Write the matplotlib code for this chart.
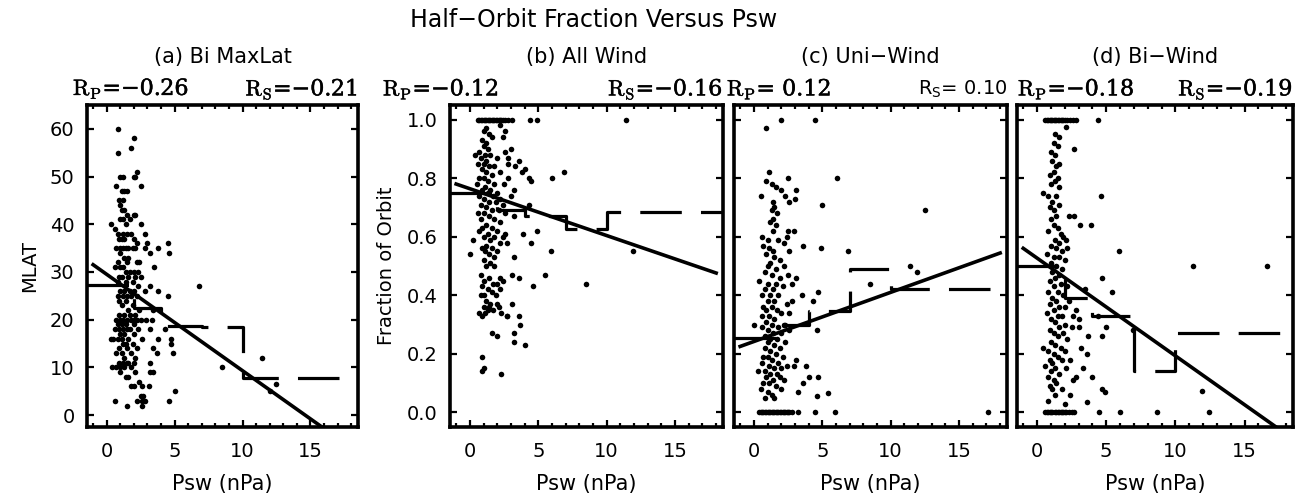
import matplotlib
matplotlib.use("Agg")
import matplotlib.pyplot as plt
import matplotlib.patheffects as pe
from matplotlib.ticker import MultipleLocator
import numpy as np

plt.rcParams['font.family'] = ['DejaVu Sans']

# ---- data ----
# (a) Bi MaxLat : Psw (nPa), MLAT (deg)
a_pts = [(0.8,60),(0.8,55),(2.0,58),(1.8,56),(2.2,51),(2.0,50),(2.1,50),(1.2,50),(1.0,50),(0.7,48),
         (2.5,48),(1.1,47),(1.3,47),(1.5,47),(0.9,45),(1.2,45),(1.0,44),(1.1,43),(1.3,43),(1.5,42),
         (2.0,42),(2.1,42),(0.3,40),(0.6,39),(1.0,41),(1.2,41),(1.4,40),(1.7,41),(2.5,40),(0.8,38),
         (1.2,38),(1.5,38),(1.8,38),(2.8,38),(0.9,37),(1.1,37),(1.3,37),(2.0,37),(2.2,36),(3.0,36),
         (0.7,35),(1.0,35),(1.2,35),(1.4,35),(1.6,35),(1.9,35),(2.1,35),(3.8,35),(4.5,36),(4.6,34),
         (3.2,34),(2.8,35),(1.0,34),(1.3,33),(1.6,33),(0.8,32),(1.5,32),(2.2,32),(2.4,32),(0.6,31),
         (1.0,31),(1.2,31),(1.4,30),(1.7,30),(2.0,30),(2.3,30),(3.5,31),(0.9,29),(1.1,29),(1.6,29),
         (2.1,29),(2.5,29),(0.8,28),(1.4,28),(1.9,28),(2.3,27),(3.2,27),(1.0,26),(1.3,26),(1.7,26),
         (2.0,26),(2.8,26),(3.8,26),(0.8,25),(1.2,25),(1.5,25),(1.8,25),(2.2,25),(4.5,25),(0.9,24),
         (1.4,24),(1.9,23),(1.1,23),(1.6,22),(2.4,22),(3.4,22),(0.9,21),(1.3,21),(1.7,21),(2.1,21),
         (0.7,20),(1.0,20),(1.2,20),(1.5,20),(1.8,20),(2.0,20),(2.2,20),(2.5,20),(2.9,20),(3.3,20),
         (0.8,19),(1.1,19),(1.4,19),(2.0,19),(0.6,18),(0.9,18),(1.2,18),(1.5,18),(1.7,18),(2.3,18),
         (3.2,18),(4.3,18),(1.0,17),(1.3,17),(2.0,17),(0.5,16),(0.8,16),(1.1,16),(1.6,16),(2.6,16),
         (3.8,16),(4.7,16),(0.3,16),(1.2,15),(1.4,15),(1.9,15),(4.7,15),(0.9,14),(1.5,14),(2.2,14),
         (3.4,14),(4.9,13),(3.7,13),(0.7,13),(1.1,13),(1.8,13),(2.1,12),(1.3,12),(1.6,11),(0.9,11),
         (1.2,11),(1.5,11),(2.0,11),(3.2,11),(0.4,10),(0.7,10),(1.0,10),(1.3,10),(1.8,10),(2.1,9),
         (3.2,9),(3.4,9),(1.0,9),(1.4,8),(1.6,8),(2.4,7),(1.8,6),(2.0,6),(2.6,6),(3.1,6),
         (2.7,4),(2.5,4),(2.6,3),(2.8,3),(2.6,2),(0.6,3),(1.5,2),(2.2,3),(4.6,3),(5.0,5),
         (6.8,27),(8.5,10),(11.4,12),(12.5,6.5),(12.0,5)]

# (b) All Wind : Psw, fraction of orbit
b_pts = [(1.2,0.97),(1.0,0.96),(1.4,0.95),(2.2,0.98),(1.6,0.94),(2.6,0.96),(0.9,0.93),(1.2,0.92),
         (2.4,0.94),(1.0,0.91),(1.3,0.90),(0.7,0.89),(1.1,0.88),(1.5,0.88),(3.0,0.90),(2.6,0.89),
         (0.4,0.88),(0.8,0.87),(1.2,0.86),(2.0,0.87),(2.8,0.87),(3.6,0.86),(0.6,0.85),(1.0,0.85),
         (1.4,0.84),(1.8,0.84),(3.3,0.84),(4.0,0.83),(0.9,0.83),(1.2,0.82),(2.2,0.82),(1.6,0.81),
         (3.8,0.82),(0.7,0.80),(1.0,0.80),(1.3,0.79),(2.8,0.80),(4.3,0.80),(1.8,0.78),(0.5,0.78),
         (2.5,0.78),(1.1,0.77),(1.5,0.76),(0.9,0.76),(2.0,0.75),(1.3,0.75),(0.7,0.74),(1.7,0.74),
         (3.0,0.74),(1.0,0.73),(2.2,0.73),(1.4,0.72),(1.9,0.72),(0.8,0.71),(2.4,0.71),(1.2,0.70),
         (1.6,0.69),(2.1,0.69),(0.6,0.68),(1.0,0.68),(2.6,0.68),(1.4,0.67),(3.2,0.67),(1.8,0.66),
         (0.8,0.66),(2.2,0.65),(1.2,0.64),(1.6,0.63),(0.9,0.63),(2.0,0.62),(2.6,0.61),(1.3,0.61),
         (0.7,0.62),(1.0,0.60),(1.8,0.60),(2.4,0.60),(0.2,0.59),(1.5,0.59),(2.2,0.58),(1.2,0.57),
         (2.7,0.58),(0.9,0.56),(1.6,0.56),(1.1,0.55),(2.0,0.55),(1.4,0.54),(1.8,0.53),(1.0,0.52),
         (3.2,0.53),(0.0,0.54),(1.5,0.51),(1.2,0.50),(1.8,0.50),(0.8,0.47),(1.4,0.46),(2.2,0.46),
         (2.4,0.45),(1.0,0.45),(1.7,0.44),(2.0,0.44),(0.9,0.43),(1.3,0.42),(2.2,0.42),(1.6,0.41),
         (1.0,0.40),(0.8,0.40),(1.9,0.40),(1.2,0.38),(1.5,0.37),(2.0,0.37),(1.0,0.36),(1.3,0.35),
         (1.7,0.35),(0.7,0.34),(2.3,0.34),(2.7,0.33),(0.9,0.33),(1.1,0.34),(2.1,0.36),(1.4,0.36),
         (4.4,1.0),(4.9,1.0),(11.4,1.0),(6.9,0.82),(6.0,0.80),(4.5,0.79),(8.5,0.44),(11.9,0.55),
         (5.5,0.47),(5.9,0.55),(4.6,0.43),(4.5,0.58),(4.9,0.62),(3.9,0.61),(4.3,0.71),(0.9,0.19),
         (0.9,0.14),(1.0,0.15),(2.3,0.13),(2.0,0.26),(1.6,0.27),(3.2,0.27),(3.2,0.24),(3.7,0.30),
         (4.0,0.23),(3.6,0.33),(3.1,0.37),(2.7,0.33),(3.6,0.46),(3.1,0.47),(3.2,0.76),(2.8,0.85)]
b_top_x = [0.6,0.7,0.8,0.9,1.0,1.1,1.2,1.3,1.4,1.5,1.6,1.7,1.8,1.9,2.0,2.1,2.2,2.3,2.4,2.6,2.8,3.1]

# (c) Uni-Wind
c_pts = [(0.9,0.79),(1.1,0.82),(1.3,0.78),(1.6,0.77),(2.0,0.76),(0.5,0.74),(1.4,0.72),(2.3,0.74),
         (2.6,0.72),(1.5,0.70),(1.3,0.69),(1.7,0.68),(1.4,0.66),(1.2,0.65),(1.6,0.64),(1.4,0.62),
         (2.5,0.62),(2.4,0.60),(0.6,0.60),(1.0,0.59),(1.8,0.59),(2.2,0.58),(0.7,0.57),(1.1,0.56),
         (1.4,0.55),(2.6,0.55),(0.9,0.54),(1.5,0.53),(1.9,0.52),(1.2,0.51),(1.0,0.50),(1.6,0.49),
         (2.2,0.50),(0.8,0.48),(1.3,0.47),(1.9,0.46),(2.5,0.47),(0.4,0.45),(1.0,0.44),(1.6,0.44),
         (1.4,0.42),(0.8,0.42),(2.1,0.43),(2.8,0.44),(1.2,0.40),(0.6,0.40),(1.8,0.40),(1.0,0.38),
         (1.5,0.38),(2.4,0.37),(0.7,0.36),(1.3,0.36),(0.9,0.35),(1.7,0.35),(2.0,0.34),(2.6,0.34),
         (0.6,0.33),(1.1,0.33),(1.5,0.32),(0.9,0.31),(2.2,0.30),(1.3,0.30),(0.0,0.30),(1.8,0.29),
         (0.6,0.29),(1.0,0.28),(2.6,0.28),(1.4,0.27),(2.0,0.27),(0.8,0.26),(1.2,0.25),(1.7,0.25),
         (1.0,0.24),(2.3,0.24),(1.5,0.23),(0.8,0.22),(1.9,0.22),(1.2,0.21),(1.6,0.20),(0.7,0.19),
         (1.0,0.19),(2.1,0.19),(1.3,0.18),(0.6,0.17),(1.8,0.17),(1.1,0.16),(1.5,0.15),(2.0,0.15),
         (0.3,0.14),(0.8,0.14),(1.2,0.13),(1.7,0.13),(0.9,0.12),(1.4,0.11),(2.2,0.11),(0.7,0.10),
         (1.1,0.10),(1.6,0.09),(0.5,0.08),(1.0,0.07),(1.3,0.06),(0.8,0.05),(1.5,0.05),(2.0,0.08),
         (1.9,0.12),(2.4,0.16),(2.3,0.30),(2.8,0.38),
         (1.95,1.0),(4.5,1.0),(0.9,0.97),(6.1,0.80),(5.0,0.71),(12.5,0.69),(6.9,0.55),(11.4,0.50),
         (11.9,0.48),(8.5,0.44),(4.6,0.28),(3.6,0.57),(4.9,0.56),(4.7,0.41),(4.3,0.38),(3.5,0.40),
         (3.1,0.46),(3.1,0.18),(3.8,0.16),(3.6,0.10),(4.0,0.12),(4.7,0.12),(4.6,0.055),(5.4,0.065),
         (3.2,0.07),(2.9,0.16),(2.5,0.80),(3.1,0.76),(3.0,0.73),(2.9,0.62)]
c_bot_x = [0.4,0.5,0.6,0.7,0.8,0.9,1.0,1.1,1.2,1.3,1.4,1.5,1.6,1.7,1.8,1.9,2.0,2.1,2.2,2.3,2.4,
           2.5,2.6,2.8,3.2,4.5,5.9,17.1]

# (d) Bi-Wind
d_pts = [(1.3,0.95),(1.6,0.94),(1.2,0.92),(1.5,0.91),(1.0,0.89),(1.3,0.88),(1.1,0.86),(1.6,0.85),
         (1.4,0.84),(1.2,0.82),(0.9,0.81),(1.5,0.80),(1.3,0.79),(1.0,0.78),(1.6,0.77),(0.4,0.75),
         (0.8,0.74),(1.4,0.74),(1.1,0.72),(1.6,0.71),(0.9,0.70),(1.2,0.69),(1.4,0.67),(1.0,0.66),
         (1.2,0.64),(1.5,0.63),(0.8,0.62),(1.7,0.61),(1.9,0.60),(1.3,0.59),(1.6,0.58),(2.1,0.59),
         (1.0,0.57),(1.4,0.56),(1.8,0.55),(2.2,0.56),(0.7,0.54),(1.2,0.53),(1.6,0.53),(2.0,0.52),
         (1.0,0.51),(1.4,0.50),(1.8,0.49),(1.1,0.48),(1.6,0.47),(1.3,0.46),(0.9,0.45),(1.7,0.44),
         (2.2,0.43),(1.2,0.43),(0.8,0.41),(1.5,0.41),(1.9,0.40),(1.1,0.39),(1.4,0.38),(2.3,0.38),
         (0.9,0.37),(1.6,0.36),(2.0,0.36),(1.2,0.35),(0.7,0.34),(1.5,0.33),(1.8,0.33),(2.6,0.33),
         (1.0,0.32),(1.3,0.31),(2.0,0.30),(1.6,0.29),(2.5,0.29),(0.9,0.28),(1.2,0.27),(1.9,0.27),
         (1.5,0.26),(2.2,0.25),(0.4,0.22),(1.0,0.24),(1.3,0.23),(1.7,0.22),(0.8,0.21),(1.2,0.20),
         (2.0,0.21),(1.5,0.19),(0.9,0.18),(1.1,0.17),(1.8,0.18),(2.4,0.18),(0.6,0.16),(1.3,0.15),
         (2.1,0.15),(1.0,0.14),(1.6,0.13),(0.8,0.12),(1.2,0.11),(2.6,0.11),(1.4,0.10),(0.9,0.09),
         (1.1,0.08),(1.8,0.08),(1.3,0.06),(0.8,0.04),(2.0,0.03),(2.4,0.06),(2.8,0.12),
         (4.4,1.0),(2.1,0.976),(2.7,0.90),(4.6,0.74),(2.7,0.67),(2.3,0.67),(3.1,0.64),(3.9,0.64),
         (5.9,0.55),(11.3,0.50),(16.6,0.50),(4.7,0.46),(5.45,0.41),(3.5,0.42),(4.4,0.33),(5.0,0.29),
         (4.7,0.26),(3.6,0.20),(4.0,0.12),(4.7,0.08),(4.9,0.068),(3.6,0.037),(11.9,0.072),(6.9,0.28),
         (3.0,0.32),(3.0,0.29),(3.7,0.26),(2.8,0.35),(3.2,0.22),(3.3,0.15)]
d_top_x = [0.6,0.7,0.8,0.9,1.0,1.1,1.2,1.3,1.4,1.5,1.6,1.7,1.8,1.9,2.0,2.2,2.4,2.6,2.8]
d_bot_x = [0.6,0.7,0.8,0.9,1.0,1.1,1.3,1.4,1.5,1.6,1.7,1.8,1.9,2.0,2.1,2.3,2.5,2.7,4.5,6.0,8.7,12.4]

# binned means (dashed steps): bin edges in Psw and mean per bin
bin_edges = [-1.45, 2, 4, 7, 10, 20]
a_bins = [27.2, 22.5, 18.7, 18.5, 7.8]
b_bins = [0.75, 0.69, 0.67, 0.625, 0.683]
c_bins = [0.255, 0.30, 0.345, 0.49, 0.42]
d_bins = [0.50, 0.39, 0.33, 0.14, 0.27]

# linear fits (intercept, slope)
a_fit = (29.5, -2.02)
b_fit = (0.764, -0.016)
c_fit = (0.242, 0.0168)
d_fit = (0.527, -0.0334)
fit_range = [-1.0, 18.0]

titles = ['(a) Bi MaxLat', '(b) All Wind', '(c) Uni\u2212Wind', '(d) Bi\u2212Wind']
r_p = ['\u22120.26', '\u22120.12', '\u00a00.12', '\u22120.18']
r_s = ['\u22120.21', '\u22120.16', '\u00a00.10', '\u22120.19']

W, H = 1301, 496
fig = plt.figure(figsize=(W / 100, H / 100), dpi=100)

boxes = [(87, 358), (450, 723), (734, 1007), (1017, 1293)]
top, bottom = 105, 427
bold = [pe.withStroke(linewidth=0.35, foreground='black')]

panels = [
    (a_pts, [], [], a_bins, a_fit, (-2.5, 65)),
    (b_pts, b_top_x, [], b_bins, b_fit, (-0.05, 1.05)),
    (c_pts, [], c_bot_x, c_bins, c_fit, (-0.05, 1.05)),
    (d_pts, d_top_x, d_bot_x, d_bins, d_fit, (-0.05, 1.05)),
]

for i, (pts, top_x, bot_x, bins, fit, ylim) in enumerate(panels):
    l, r = boxes[i]
    ax = fig.add_axes([l / W, 1 - bottom / H, (r - l) / W, (bottom - top) / H])
    pts = np.array(pts)
    ax.plot(pts[:, 0], pts[:, 1], 'o', color='black', ms=4.0, mec='none')
    if top_x:
        ax.plot(top_x, [1.0] * len(top_x), 'o', color='black', ms=4.0, mec='none')
    if bot_x:
        ax.plot(bot_x, [0.0] * len(bot_x), 'o', color='black', ms=4.0, mec='none')

    ax.step(bin_edges, bins + [bins[-1]], where='post', color='black', lw=2.3,
            linestyle=(0, (13, 6)))
    fx = np.array(fit_range)
    ax.plot(fx, fit[0] + fit[1] * fx, color='black', lw=2.6)

    ax.set_xlim(-1.45, 18.5)
    ax.set_ylim(*ylim)
    ax.xaxis.set_major_locator(MultipleLocator(5))
    ax.xaxis.set_minor_locator(MultipleLocator(1))
    ax.tick_params(which='both', direction='in', top=True, right=True, width=1.6, colors='black')
    ax.tick_params(which='major', length=5)
    ax.tick_params(which='minor', length=3)
    ax.tick_params(axis='x', labelsize=14, pad=11)
    ax.tick_params(axis='y', labelsize=14, pad=9)
    if i == 0:
        ax.set_yticks([0, 10, 20, 30, 40, 50, 60])
    else:
        ax.set_yticks([0.0, 0.2, 0.4, 0.6, 0.8, 1.0])
        if i == 1:
            ax.set_yticklabels(['0.0', '0.2', '0.4', '0.6', '0.8', '1.0'])
        else:
            ax.set_yticklabels([])
    for s in ax.spines.values():
        s.set_linewidth(2.6)

    cx = (l + r) / 2
    fig.text(cx / W, 1 - 57 / H, titles[i], ha='center', va='center', fontsize=15)
    fig.text(cx / W, 1 - 484 / H, 'Psw (nPa)', ha='center', va='center', fontsize=15)

    # correlation labels
    rp_x = [73, 383, 727, 1018][i]
    fig.text(rp_x / W, 1 - 89 / H, r'$\mathrm{R_P}$=' + r_p[i], ha='left', va='center',
             fontsize=16, family='DejaVu Serif', math_fontfamily='cm', path_effects=bold)
    if i == 2:
        fig.text(r / W, 1 - 89 / H, r'R$_\mathrm{S}$= ' + '0.10', ha='right', va='center',
                 fontsize=14, math_fontfamily='dejavusans')
    else:
        fig.text(r / W, 1 - 89 / H, r'$\mathrm{R_S}$=' + r_s[i], ha='right', va='center',
                 fontsize=16, family='DejaVu Serif', math_fontfamily='cm', path_effects=bold)

fig.text(594 / W, 1 - 20 / H, 'Half\u2212Orbit Fraction Versus Psw', ha='center', va='center',
         fontsize=17)
fig.text(30 / W, 1 - 266 / H, 'MLAT', ha='center', va='center', rotation=90, fontsize=14)
fig.text(387 / W, 1 - 266 / H, 'Fraction of Orbit', ha='center', va='center', rotation=90,
         fontsize=14)

fig.savefig('out.png', dpi=100)
